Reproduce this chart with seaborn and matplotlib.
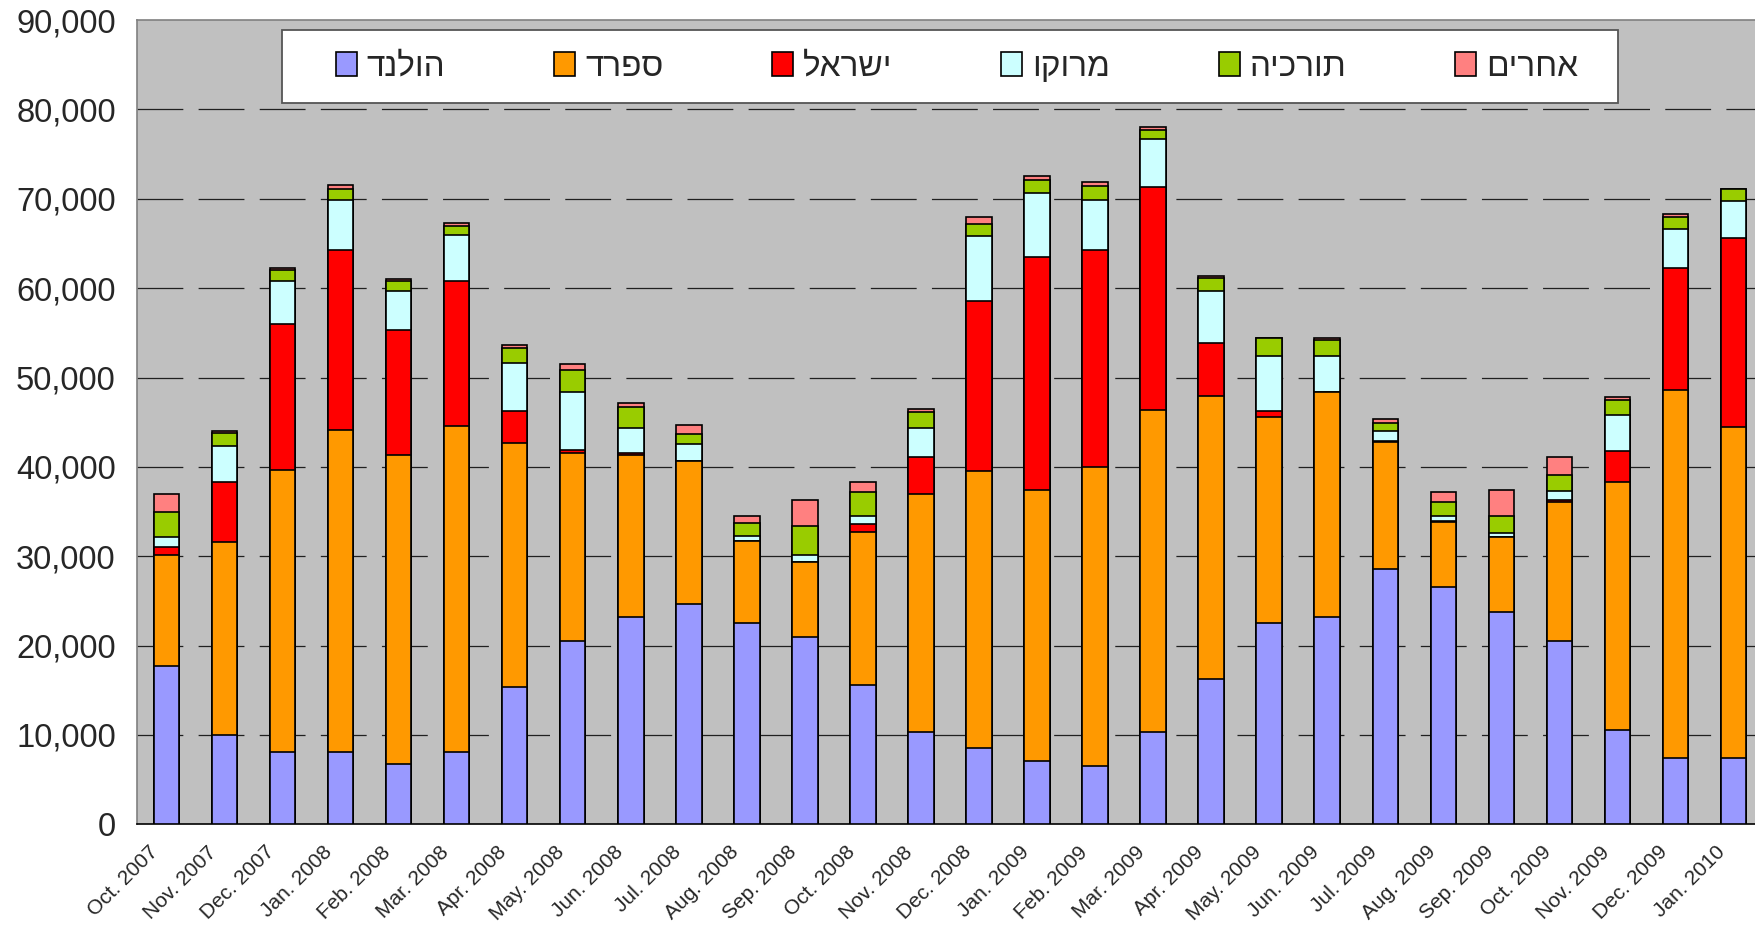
import pandas as pd
import seaborn as sns
import matplotlib.pyplot as plt
from matplotlib.patches import Patch, Rectangle
from matplotlib.ticker import FuncFormatter
import matplotlib.transforms as mtransforms

# -----------------------------
# Data
# -----------------------------
months = ["Oct. 2007", "Nov. 2007", "Dec. 2007", "Jan. 2008", "Feb. 2008", "Mar. 2008",
          "Apr. 2008", "May. 2008", "Jun. 2008", "Jul. 2008", "Aug. 2008", "Sep. 2008",
          "Oct. 2008", "Nov. 2008", "Dec. 2008", "Jan. 2009", "Feb. 2009", "Mar. 2009",
          "Apr. 2009", "May. 2009", "Jun. 2009", "Jul. 2009", "Aug. 2009", "Sep. 2009",
          "Oct. 2009", "Nov. 2009", "Dec. 2009", "Jan. 2010"]

countries = ["הולנד", "ספרד", "ישראל", "מרוקו", "תורכיה", "אחרים"]
colors = ["#9999FF", "#FF9900", "#FF0000", "#CCFFFF", "#99CC00", "#FF8080"]

netherlands = [17700, 10000, 8050, 8050, 6750, 8050, 15300, 20500, 23150, 24700, 22550, 21000,
               15550, 10300, 8550, 7050, 6550, 10300, 16200, 22500, 23150, 28600, 26500, 23800,
               20500, 10500, 7450, 7450]
spain = [12400, 21600, 31650, 36100, 34550, 36550, 27350, 21000, 18200, 15950, 9100, 8300,
         17200, 26650, 30950, 30350, 33400, 36100, 31700, 23050, 25200, 14150, 7350, 8300,
         15550, 27800, 41150, 37000]
israel = [900, 6650, 16300, 20150, 14050, 16200, 3550, 400, 150, 50, 100, 50,
          850, 4150, 19100, 26050, 24350, 24900, 5950, 650, 50, 150, 100, 100,
          250, 3450, 13650, 21200]
morocco = [1100, 4050, 4750, 5600, 4300, 5200, 5400, 6450, 2850, 1850, 550, 800,
           850, 3300, 7200, 7150, 5600, 5400, 5800, 6250, 4050, 1150, 550, 400,
           1050, 4000, 4400, 4100]
turkey = [2900, 1450, 1250, 1250, 1100, 1000, 1700, 2450, 2400, 1100, 1400, 3250,
          2700, 1750, 1400, 1500, 1550, 1000, 1450, 2000, 1750, 850, 1600, 1900,
          1750, 1750, 1300, 1300]
others = [1950, 300, 250, 350, 250, 350, 300, 700, 450, 1000, 800, 2850,
          1100, 300, 750, 450, 450, 300, 300, 0, 250, 400, 1100, 2900,
          2000, 300, 300, 0]

df = pd.DataFrame({"month": months})
for name, vals in zip(countries, [netherlands, spain, israel, morocco, turkey, others]):
    df[name] = vals

# -----------------------------
# Style
# -----------------------------
sns.set_style("white")
plt.rcParams['font.family'] = ['Liberation Sans', 'DejaVu Sans']
plt.rcParams['lines.scale_dashes'] = False

fig = plt.figure(figsize=(17.55, 9.25), dpi=100)
ax = fig.add_axes([0.0783, 0.109, 0.926, 0.8692])
ax.set_facecolor("#C0C0C0")

# stacked bars: draw cumulative totals from the top series down
cum = df[countries].cumsum(axis=1)
for i in range(len(countries) - 1, -1, -1):
    sns.barplot(x=df["month"], y=cum[countries[i]], color=colors[i], saturation=1,
                width=0.44, edgecolor="black", linewidth=1.2, errorbar=None,
                ax=ax, zorder=3)

ax.set_xlim(-0.5, len(months) - 0.5)
ax.set_ylim(0, 90000)
ax.set_xlabel("")
ax.set_ylabel("")

# dashed gridlines
for y in range(10000, 90000, 10000):
    ax.axhline(y, color="#202020", lw=0.9, dashes=(33, 11), zorder=1)

# y axis
ax.set_yticks(range(0, 90001, 10000))
ax.yaxis.set_major_formatter(FuncFormatter(lambda v, p: f"{v:,.0f}"))
ax.tick_params(axis="y", length=6.5, width=1, color="black", labelsize=23.5, pad=9)

# x axis: labels at bar centers, ticks at category boundaries
ax.set_xticks(range(len(months)))
ax.set_xticklabels(months, rotation=45, ha="right", va="center",
                   rotation_mode="anchor", fontsize=15)
ax.set_xticks([i - 0.5 for i in range(len(months) + 1)], minor=True)
ax.tick_params(axis="x", which="major", length=0, pad=18)
ax.tick_params(axis="x", which="minor", length=4.5, width=1, color="#404040")
shift = mtransforms.ScaledTranslation(-0.11, 0, fig.dpi_scale_trans)
for lbl in ax.get_xticklabels():
    lbl.set_transform(lbl.get_transform() + shift)

for side in ["left", "top"]:
    ax.spines[side].set_color("#808080")
    ax.spines[side].set_linewidth(1.2)
ax.spines["bottom"].set_color("black")
ax.spines["bottom"].set_linewidth(1.2)
ax.spines["right"].set_visible(False)

# legend (Hebrew reversed for right-to-left display)
ax.add_patch(Rectangle((0.0889, 0.8968), 0.822, 0.0908, transform=ax.transAxes,
                       facecolor="white", edgecolor="#555555", lw=1.3, zorder=4))
handles = [Patch(facecolor=c, edgecolor="black", linewidth=1.2) for c in colors]
labels = [c[::-1] for c in countries]
leg = ax.legend(handles, labels, ncol=6, mode="expand", loc="center",
                bbox_to_anchor=(0.1222, 0.9415, 0.7643, 0), frameon=False,
                fontsize=24, handlelength=0.62, handleheight=0.72,
                handletextpad=0.3, borderpad=0, borderaxespad=0)
leg.set_zorder(5)

fig.savefig("out.png", dpi=100)
